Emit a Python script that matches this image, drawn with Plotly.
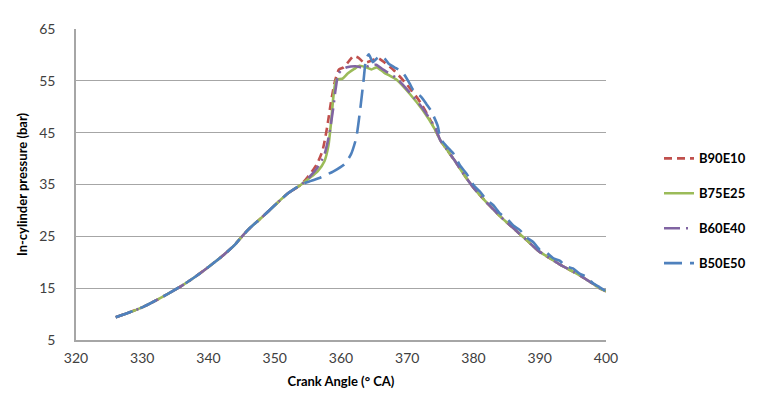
import plotly.graph_objects as go

# ---------------- data ----------------
series_names = ["B90E10", "B75E25", "B60E40", "B50E50"]
series_colors = ["#C0504D", "#9BBB59", "#8064A2", "#4F81BD"]

# shared compression part (all blends overlap)
common_x = [326, 328, 330, 332, 334, 336, 338, 340, 342, 344, 345, 346, 348, 350, 352, 354]
common_y = [9.4, 10.3, 11.3, 12.6, 14.0, 15.5, 17.2, 19.1, 21.1, 23.4, 24.9, 26.3,
            28.6, 31.0, 33.3, 35.0]

# combustion part, per blend
b90_x = [355.0, 356.3, 357.2, 357.9, 358.5, 359.1, 359.7, 360.4, 361.2, 361.9, 362.6,
         363.5, 364.6, 365.6, 366.6, 368.0, 370.0, 372.0, 374.0]
b90_y = [36.5, 38.8, 41.5, 46.0, 51.0, 55.0, 57.2, 57.6, 58.8, 59.8, 59.5,
         58.5, 58.9, 59.4, 58.5, 57.0, 54.2, 50.8, 46.2]

b75_x = [355.2, 356.5, 357.5, 358.1, 358.5, 358.9, 359.3, 360.2, 361.0, 362.0, 362.8,
         363.8, 364.6, 365.4, 366.5, 368.4, 370.3, 372.3, 374.2]
b75_y = [36.2, 37.6, 39.5, 42.5, 47.0, 52.5, 55.2, 55.4, 56.4, 57.3, 57.9,
         57.6, 57.2, 57.6, 56.6, 55.2, 52.6, 49.4, 45.6]

b60_x = [355.2, 356.4, 357.5, 358.2, 358.8, 359.2, 359.6, 360.2, 360.9, 362.2, 363.5,
         364.2, 365.3, 366.3, 368.3, 370.2, 372.2, 374.2]
b60_y = [36.4, 38.2, 40.8, 44.5, 49.5, 53.5, 56.3, 57.2, 57.6, 57.8, 57.5,
         57.9, 58.1, 57.2, 55.6, 53.0, 49.9, 46.0]

b50_x = [355.5, 357.0, 358.8, 360.5, 361.5, 362.3, 362.9, 363.4, 363.8, 364.2, 364.8,
         365.4, 366.1, 366.6, 367.2, 368.2, 369.2, 370.4, 370.9, 372.1, 372.9, 373.6, 374.6]
b50_y = [35.7, 36.4, 37.5, 38.9, 40.8, 44.0, 49.5, 55.0, 59.3, 60.1, 58.6,
         59.3, 59.8, 59.3, 58.3, 57.5, 56.8, 54.4, 53.2, 51.9, 50.5, 49.2, 46.3]

# expansion part
desc_x = [375, 376, 377, 378, 379, 380, 381, 382, 383, 384, 385, 386, 387, 388, 389,
          390, 391, 392, 393, 394, 395, 396, 397, 398, 399, 400]
desc_y = [43.5, 41.7, 39.9, 38.0, 36.1, 34.4, 32.9, 31.5, 30.2, 28.9, 27.7, 26.6, 25.4,
          24.3, 23.1, 22.0, 21.2, 20.4, 19.6, 18.9, 18.2, 17.5, 16.7, 15.9, 15.0, 14.4]
b50_desc_y = [43.9, 42.3, 40.9, 38.6, 37.0, 34.9, 33.6, 32.0, 31.0, 29.4, 28.5, 27.1, 26.2,
              24.8, 23.9, 22.4, 21.9, 20.8, 20.3, 19.2, 18.8, 17.8, 17.2, 16.0, 15.2, 14.4]

x_ticks = [320, 330, 340, 350, 360, 370, 380, 390, 400]
y_ticks = [5, 15, 25, 35, 45, 55, 65]

# ---------------- figure ----------------
mids = [(b90_x, b90_y, desc_y), (b75_x, b75_y, desc_y),
        (b60_x, b60_y, desc_y), (b50_x, b50_y, b50_desc_y)]
dashes = ["8px,5px", "solid", "16px,6px,2px,6px", "18px,8px"]

fig = go.Figure()
for name, color, (mx, my, dy), dash in zip(series_names, series_colors, mids, dashes):
    fig.add_trace(go.Scatter(
        x=common_x + mx + desc_x,
        y=common_y + my + dy,
        mode="lines",
        name=name,
        legendgroup=name,
        line=dict(color=color, width=2.6, dash=dash, shape="spline", smoothing=0.6),
    ))

fig.update_layout(
    width=763, height=394,
    margin=dict(l=68, r=165, t=14, b=62),
    plot_bgcolor="white", paper_bgcolor="white",
    font=dict(family="Lato, 'Open Sans', sans-serif", color="#404040"),
    legend=dict(
        x=1.10, xanchor="left", y=0.415, yanchor="middle",
        font=dict(size=13, color="#000000", family="Lato, sans-serif", weight="bold"),
        tracegroupgap=15, bgcolor="rgba(0,0,0,0)",
        itemwidth=30,
    ),
    xaxis=dict(
        range=[320, 400], tickvals=x_ticks, ticktext=[str(v) for v in x_ticks],
        showgrid=False, zeroline=False, showline=True, linecolor="#A6A6A6", linewidth=1.5,
        ticks="", tickfont=dict(size=14, color="#404040"), ticklabelstandoff=4,
        title=dict(text="<b>Crank Angle (° CA)</b>", font=dict(size=13, color="#000000"),
                   standoff=12),
    ),
    yaxis=dict(
        range=[5, 65], tickvals=y_ticks, ticktext=[str(v) for v in y_ticks],
        showgrid=True, gridcolor="#A6A6A6", gridwidth=1.2, zeroline=False,
        showline=True, linecolor="#A6A6A6", linewidth=1.5,
        ticks="", tickfont=dict(size=14, color="#404040"), ticklabelstandoff=16,
        title=dict(text="<b>In-cylinder pressure (bar)</b>",
                   font=dict(size=13, color="#000000"), standoff=9),
    ),
)

fig.write_html("out.html")
